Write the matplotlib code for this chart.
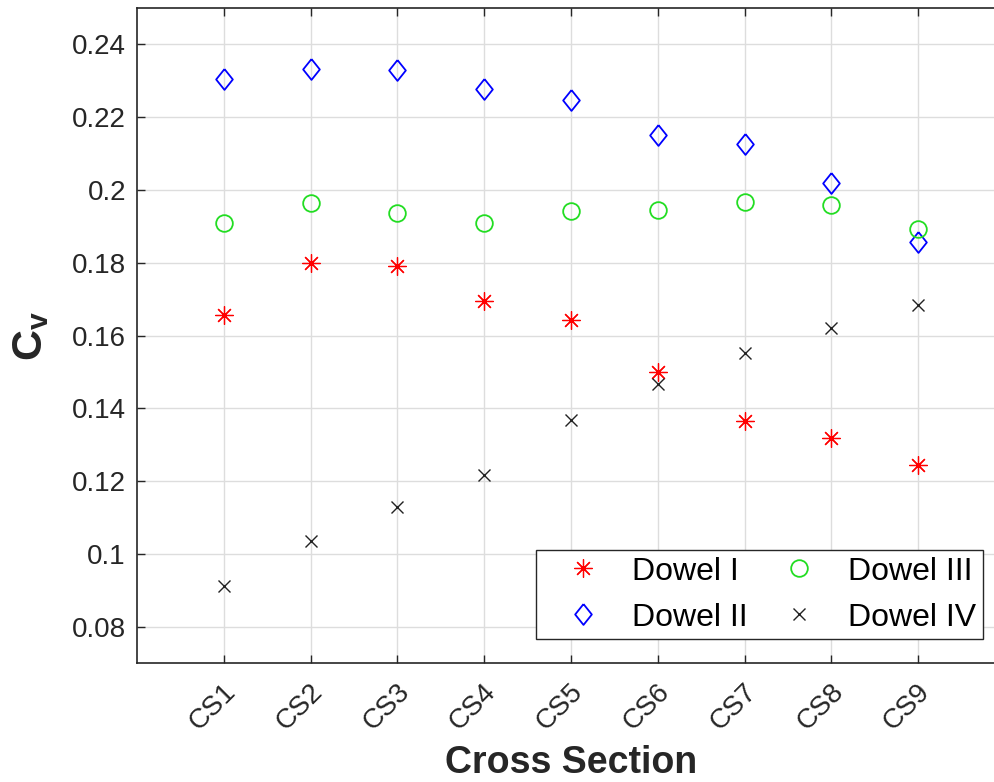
import numpy as np
import matplotlib
matplotlib.use('Agg')
import matplotlib.pyplot as plt
import matplotlib.transforms as mtransforms

plt.rcParams['font.family'] = ['Liberation Sans', 'DejaVu Sans']
plt.rcParams['mathtext.fontset'] = 'custom'
plt.rcParams['mathtext.rm'] = 'Liberation Sans'
plt.rcParams['mathtext.bf'] = 'Liberation Sans:bold'

# data
sections = ['CS1', 'CS2', 'CS3', 'CS4', 'CS5', 'CS6', 'CS7', 'CS8', 'CS9']
dowel_1 = [0.1655, 0.1800, 0.1792, 0.1694, 0.1642, 0.1500, 0.1364, 0.1318, 0.1244]
dowel_2 = [0.2304, 0.2333, 0.2330, 0.2277, 0.2247, 0.2151, 0.2126, 0.2019, 0.1857]
dowel_3 = [0.1910, 0.1965, 0.1936, 0.1910, 0.1942, 0.1945, 0.1966, 0.1958, 0.1892]
dowel_4 = [0.0911, 0.1034, 0.1130, 0.1216, 0.1367, 0.1468, 0.1551, 0.1621, 0.1685]

x = np.arange(1, len(sections) + 1)

# MATLAB-like diamond (taller than wide)
diamond = [(0, 1), (0.8, 0), (0, -1), (-0.8, 0), (0, 1)]

W, H = 995, 782
fig = plt.figure(figsize=(W / 100, H / 100), dpi=100)
ax = fig.add_axes([137 / W, 1 - 663 / H, (1005 - 137) / W, (663 - 8) / H])

ax.plot(x, dowel_1, linestyle='none', marker=(8, 2, 0), markersize=13, mew=0.9,
        color='red', label='Dowel I')
ax.plot(x, dowel_2, linestyle='none', marker=diamond, markersize=15, mew=1.3,
        mfc='none', color='blue', label='Dowel II')
ax.plot(x, dowel_3, linestyle='none', marker='o', markersize=12, mew=1.3,
        mfc='none', color='#22dd22', label='Dowel III')
ax.plot(x, dowel_4, linestyle='none', marker='x', markersize=9, mew=1.0,
        color='#222222', label='Dowel IV')

ax.set_xlim(0, 10)
ax.set_ylim(0.07, 0.25)
ax.set_xticks(x)
ax.set_xticklabels(sections, rotation=45, ha='right', va='center',
                   rotation_mode='anchor')
ax.set_yticks([0.08, 0.1, 0.12, 0.14, 0.16, 0.18, 0.2, 0.22, 0.24])
ax.set_yticklabels(['0.08', '0.1', '0.12', '0.14', '0.16', '0.18', '0.2', '0.22', '0.24'])

ax.grid(True, color='#dddddd', linewidth=1.0)
ax.set_axisbelow(True)
ax.tick_params(direction='in', length=6, width=1, colors='#262626', labelsize=20,
               top=True, right=True, pad=8)
ax.tick_params(axis='x', pad=16)
# nudge rotated labels like MATLAB places them
shift = mtransforms.ScaledTranslation(8 / 100, -3 / 100, fig.dpi_scale_trans)
for lbl in ax.get_xticklabels():
    lbl.set_transform(lbl.get_transform() + shift)
for s in ax.spines.values():
    s.set_color('#262626')
    s.set_linewidth(1.2)

ax.set_xlabel('Cross Section', fontsize=27, fontweight='bold', color='#262626', labelpad=7)
ax.set_ylabel(r'$\mathbf{C_v}$', fontsize=31, color='#262626', labelpad=15)

leg = ax.legend(ncol=2, loc='lower right', bbox_to_anchor=(983 / W, 1 - 639 / H),
                bbox_transform=fig.transFigure, fontsize=23, frameon=True,
                fancybox=False, framealpha=1, edgecolor='#262626',
                borderaxespad=0, handlelength=2.5, handletextpad=0.3,
                columnspacing=0.35, labelspacing=0.5, borderpad=0.2)
leg.get_frame().set_linewidth(1.0)

fig.savefig('out.png', dpi=100)
